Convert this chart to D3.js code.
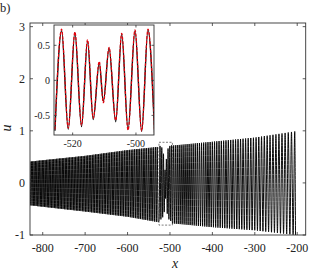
<!DOCTYPE html>
<html>
<head>
<meta charset="utf-8">
<script src="https://cdn.jsdelivr.net/npm/d3@7"></script>
<style>
  body { margin: 0; background: #fff; }
  svg text { font-family: "Liberation Serif", "Times New Roman", serif; fill: #222; }
</style>
</head>
<body>
<svg id="chart" width="312" height="271"></svg>
<script>
// main plot envelope (x, upper, lower)
var envX  = [-830, -700, -600, -530, -490, -400, -300, -204];
var envUp = [0.41, 0.52, 0.63, 0.69, 0.72, 0.79, 0.87, 0.99];
var envLo = [-0.43, -0.55, -0.65, -0.75, -0.78, -0.85, -0.91, -1.0];

// local wavelength of the oscillation (estimated from line spacing)
var perX   = [-830, -700, -530, -400, -300, -204];
var perVal = [3.2, 3.6, 4.2, 5.2, 6.3, 7.8];

// inset: extrema of the black curve
var insX = [-525.6, -523.5, -521.4, -519.3, -517.2, -515.3, -513.5, -511.6, -510.3,
            -508.5, -506.4, -504.5, -502.5, -500.3, -498.2, -496.2, -494.1];
var insBlack = [-0.72, 0.71, -0.70, 0.68, -0.66, 0.56, -0.56, 0.25, -0.30,
                0.46, -0.59, 0.66, -0.70, 0.71, -0.73, 0.72, -0.78];
// inset: extrema of the red dashed curve
var insRed = [-0.70, 0.73, -0.68, 0.69, -0.64, 0.58, -0.54, 0.27, -0.32,
              0.47, -0.57, 0.67, -0.71, 0.72, -0.72, 0.73, -0.77];

var xTicks  = [-800, -700, -600, -500, -400, -300, -200];
var yTicks  = [-1, 0, 1, 2, 3];
var ixTicks = [-520, -500];
var iyTicks = [-0.5, 0, 0.5];

var svg = d3.select("#chart");

var m = {left: 30, top: 23, right: 305.7, bottom: 235};
var x = d3.scaleLinear().domain([-830, -180]).range([m.left, m.right]);
var y = d3.scaleLinear().domain([-1, 3.07]).range([m.bottom, m.top]);

var up = d3.scaleLinear().domain(envX).range(envUp).clamp(true);
var lo = d3.scaleLinear().domain(envX).range(envLo).clamp(true);
var wl = d3.scaleLinear().domain(perX).range(perVal).clamp(true);

// build the extrema of the main trace, splicing the inset curve in its window
var pts = [];
var xx = -830, k = 0;
var x0 = insX[0], x1 = insX[insX.length - 1];
while (xx < -204) {
        if (xx >= x0 - 1.5 && pts.length && pts[pts.length-1][0] < x0) {
                for (var i = 0; i < insX.length; i++) pts.push([insX[i], insBlack[i]]);
                xx = x1 + wl(x1) / 2;
                k = 0;
                continue;
        }
        pts.push([xx, k % 2 == 0 ? up(xx) : lo(xx)]);
        xx += wl(xx) / 2;
        k++;
}
pts.push([-204, lo(-204)]);

var defs = svg.append("defs");
defs.append("clipPath").attr("id", "mainclip")
        .append("rect").attr("x", m.left).attr("y", m.top)
        .attr("width", m.right - m.left).attr("height", m.bottom - m.top);

var line = d3.line()
        .x(function(d) { return x(d[0]); })
        .y(function(d) { return y(d[1]); })
        .curve(d3.curveMonotoneX);

svg.append("path")
        .datum(pts)
        .attr("clip-path", "url(#mainclip)")
        .attr("d", line)
        .attr("fill", "none")
        .attr("stroke", "#000")
        .attr("stroke-width", 0.95);

// dashed box marking the inset window
svg.append("rect")
        .attr("x", x(-525.9)).attr("y", y(0.78))
        .attr("width", x(-494.3) - x(-525.9))
        .attr("height", y(-0.81) - y(0.78))
        .attr("fill", "none")
        .attr("stroke", "#444")
        .attr("stroke-width", 0.7)
        .attr("stroke-dasharray", "2,1.5");

// frame + ticks
function frame(g, sx, sy, lw) {
        var r = sx.range(), t = sy.range();
        g.append("rect")
                .attr("x", r[0]).attr("y", t[1])
                .attr("width", r[1] - r[0]).attr("height", t[0] - t[1])
                .attr("fill", "none").attr("stroke", "#333").attr("stroke-width", lw);
}

var gm = svg.append("g");
frame(gm, x, y, 0.9);
xTicks.forEach(function(v) {
        gm.append("line").attr("x1", x(v)).attr("x2", x(v))
                .attr("y1", m.bottom).attr("y2", m.bottom - 3).attr("stroke", "#333").attr("stroke-width", 0.8);
        gm.append("line").attr("x1", x(v)).attr("x2", x(v))
                .attr("y1", m.top).attr("y2", m.top + 3).attr("stroke", "#333").attr("stroke-width", 0.8);
        gm.append("text").attr("x", x(v)).attr("y", 252)
                .attr("text-anchor", "middle").attr("font-size", "12px").text(v);
});
yTicks.forEach(function(v) {
        gm.append("line").attr("x1", m.left).attr("x2", m.left + 3)
                .attr("y1", y(v)).attr("y2", y(v)).attr("stroke", "#333").attr("stroke-width", 0.8);
        gm.append("line").attr("x1", m.right).attr("x2", m.right - 3)
                .attr("y1", y(v)).attr("y2", y(v)).attr("stroke", "#333").attr("stroke-width", 0.8);
        gm.append("text").attr("x", 25).attr("y", y(v) + 4)
                .attr("text-anchor", "end").attr("font-size", "12px").text(v);
});

svg.append("text").attr("x", 0).attr("y", 12).attr("font-size", "12.5px").text("b)");
svg.append("text").attr("x", 175).attr("y", 268)
        .attr("text-anchor", "middle").attr("font-size", "14px").attr("font-style", "italic").text("x");
svg.append("text").attr("transform", "translate(11,128) rotate(-90)")
        .attr("text-anchor", "middle").attr("font-size", "14px").attr("font-style", "italic").text("u");

// inset
var ix = d3.scaleLinear().domain([-525.9, -494.3]).range([54, 154]);
var iy = d3.scaleLinear().domain([-0.78, 0.79]).range([135, 25]);

var gi = svg.append("g");
gi.append("rect").attr("x", 54).attr("y", 25).attr("width", 100).attr("height", 110).attr("fill", "#fff");
defs.append("clipPath").attr("id", "insclip")
        .append("rect").attr("x", 54).attr("y", 25).attr("width", 100).attr("height", 110);

var iline = d3.line()
        .x(function(d) { return ix(d[0]); })
        .y(function(d) { return iy(d[1]); })
        .curve(d3.curveMonotoneX);

gi.append("path")
        .datum(d3.zip(insX, insBlack))
        .attr("clip-path", "url(#insclip)")
        .attr("d", iline)
        .attr("fill", "none").attr("stroke", "#111").attr("stroke-width", 1.4);
gi.append("path")
        .datum(d3.zip(insX, insRed))
        .attr("clip-path", "url(#insclip)")
        .attr("d", iline)
        .attr("fill", "none").attr("stroke", "#e8000b").attr("stroke-width", 1.2)
        .attr("stroke-dasharray", "3,1.5");

frame(gi, ix, iy, 0.9);
ixTicks.forEach(function(v) {
        gi.append("line").attr("x1", ix(v)).attr("x2", ix(v))
                .attr("y1", 135).attr("y2", 132.5).attr("stroke", "#333").attr("stroke-width", 0.8);
        gi.append("line").attr("x1", ix(v)).attr("x2", ix(v))
                .attr("y1", 25).attr("y2", 27.5).attr("stroke", "#333").attr("stroke-width", 0.8);
        gi.append("text").attr("x", ix(v)).attr("y", 147)
                .attr("text-anchor", "middle").attr("font-size", "10px").text(v);
});
iyTicks.forEach(function(v) {
        gi.append("line").attr("x1", 54).attr("x2", 56.5)
                .attr("y1", iy(v)).attr("y2", iy(v)).attr("stroke", "#333").attr("stroke-width", 0.8);
        gi.append("line").attr("x1", 154).attr("x2", 151.5)
                .attr("y1", iy(v)).attr("y2", iy(v)).attr("stroke", "#333").attr("stroke-width", 0.8);
        gi.append("text").attr("x", 50).attr("y", iy(v) + 3.5)
                .attr("text-anchor", "end").attr("font-size", "10px").text(v);
});
</script>
</body>
</html>
